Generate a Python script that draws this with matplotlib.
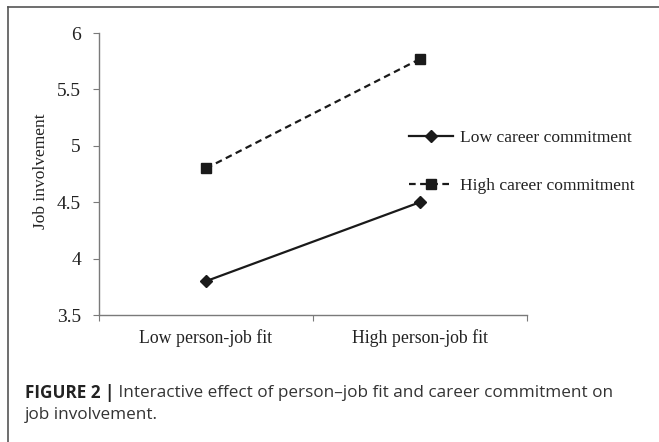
import matplotlib
matplotlib.use("Agg")
import matplotlib.pyplot as plt
from matplotlib.lines import Line2D

categories = ["Low person-job fit", "High person-job fit"]
low_cc = [3.8, 4.5]
high_cc = [4.8, 5.77]
series_names = ["Low career commitment", "High career commitment"]
yticks = [3.5, 4, 4.5, 5, 5.5, 6]
ytick_labels = ["3.5", "4", "4.5", "5", "5.5", "6"]
caption_bold = "FIGURE 2 |"
caption_rest_1 = " Interactive effect of person\u2013job fit and career commitment on"
caption_line_2 = "job involvement."
ylabel = "Job involvement"

W, H = 659, 442
fig = plt.figure(figsize=(W / 100, H / 100), dpi=100)
serif = ["Liberation Serif", "DejaVu Serif"]
sans = ["Open Sans", "Liberation Sans", "DejaVu Sans"]

ax = fig.add_axes([99 / W, 1 - 315 / H, (527 - 99) / W, (315 - 33) / H])
x = list(range(len(categories)))
line_col = "#1a1a1a"
ax.plot(x, low_cc, color=line_col, lw=1.6, marker="D", markersize=6,
        label=series_names[0])
ax.plot(x, high_cc, color=line_col, lw=1.6, linestyle=(0, (3, 2)), marker="s",
        markersize=7.5, label=series_names[1])

ax.set_xlim(-0.5, len(categories) - 0.5)
ax.set_ylim(3.5, 6)
ax.set_yticks(yticks)
ax.set_yticklabels(ytick_labels, fontfamily=serif, fontsize=14, color="#222222")
ax.set_xticks([i - 0.5 for i in range(len(categories) + 1)])
ax.set_xticklabels([])
ax.set_xticks(x, minor=True)
ax.set_xticklabels(categories, minor=True, fontfamily=serif, fontsize=12.8,
                   color="#222222")
ax.tick_params(axis="x", which="minor", length=0, pad=10)
ax.tick_params(axis="x", which="major", length=4, direction="out", color="#7a7a7a")
ax.tick_params(axis="y", length=4, direction="out", color="#7a7a7a", pad=9)
for s in ["top", "right"]:
    ax.spines[s].set_visible(False)
for s in ["left", "bottom"]:
    ax.spines[s].set_color("#7a7a7a")
    ax.spines[s].set_linewidth(1.0)

ax.set_ylabel(ylabel, fontfamily=serif, fontsize=12.5, color="#222222")
ax.yaxis.set_label_coords((49 - 99) / (527 - 99), 0.51)

leg = fig.legend(loc="upper left", bbox_to_anchor=(409 / W, 1 - 130 / H),
                 frameon=False, borderpad=0, borderaxespad=0,
                 handlelength=2.5, handletextpad=0.4, labelspacing=1.82,
                 prop={"family": serif, "size": 12.6})
for t in leg.get_texts():
    t.set_color("#222222")

# outer frame
fig.add_artist(Line2D([8 / W, 1.0], [1 - 6.5 / H, 1 - 6.5 / H], color="#555555",
                      lw=1.2, transform=fig.transFigure))
fig.add_artist(Line2D([8 / W, 8 / W], [0, 1 - 6.5 / H], color="#555555",
                      lw=1.2, transform=fig.transFigure))

# caption
cap_size = 12.3
tb = fig.text(25 / W, 1 - 393 / H, caption_bold, fontfamily=sans, fontsize=cap_size,
              fontweight="bold", color="#222222", va="center")
fig.canvas.draw()
bb = tb.get_window_extent()
fig.text(bb.x1 / W, 1 - 393 / H, caption_rest_1, fontfamily=sans, fontsize=cap_size,
         color="#333333", va="center")
fig.text(25 / W, 1 - 415 / H, caption_line_2, fontfamily=sans, fontsize=cap_size,
         color="#333333", va="center")

fig.savefig("out.png", dpi=100)
